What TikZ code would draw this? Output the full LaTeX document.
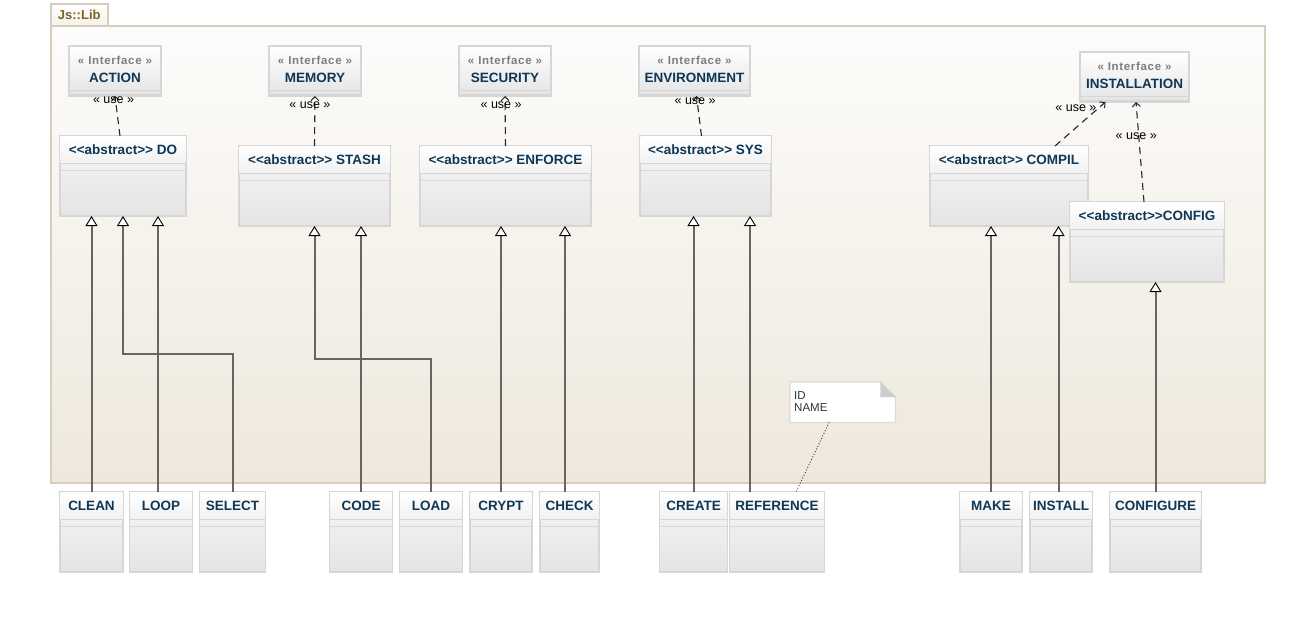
\documentclass[tikz,border=0pt]{standalone}
\usepackage{fontspec}
\setmainfont{Liberation Sans}
\newfontfamily\stereofont{Liberation Sans}[LetterSpace=6]
\usepackage{xcolor}
\usepackage{tikz}
\usetikzlibrary{arrows.meta}

\definecolor{boxline}{RGB}{214,214,214}
\definecolor{bodytop}{RGB}{247,247,247}
\definecolor{bodybot}{RGB}{228,228,228}
\definecolor{titlebot}{RGB}{241,241,241}
\definecolor{titleblue}{RGB}{15,55,85}
\definecolor{stereogray}{RGB}{125,125,125}
\definecolor{pkgline}{RGB}{214,206,188}
\definecolor{pkgtop}{RGB}{253,252,251}
\definecolor{pkgbot}{RGB}{238,232,220}
\definecolor{pkgtext}{RGB}{128,96,40}
\definecolor{genline}{RGB}{105,100,95}
\definecolor{notefold}{RGB}{205,205,205}

\tikzset {
	classbox/.style={rectangle, draw=boxline, line width=1.1pt, top color=bodytop, bottom color=bodybot,
					anchor=north west, inner sep=0pt, outer sep=0pt},
	ifacebox/.style={rectangle, draw=boxline, line width=1.1pt, top color=white, bottom color=bodybot,
					anchor=north west, inner sep=0pt, outer sep=0pt},
	titlepart/.style={top color=white, bottom color=titlebot},
	sepline/.style={draw=boxline, line width=1pt},
	classtitle/.style={anchor=base, inner sep=0pt, text=titleblue, font=\fontsize{13.5}{16}\selectfont\bfseries},
	stereo/.style={anchor=base, inner sep=0pt, text=stereogray, font=\fontsize{11.5}{14}\selectfont\stereofont\bfseries},
	uselabel/.style={inner sep=0pt, text=black, font=\fontsize{12.5}{15}\selectfont},
	inherit/.style={draw=genline, line width=2pt,
					-{Triangle[length=10pt, width=12pt, color=black, fill=white, line width=0.9pt]}},
	depend/.style={draw=black!85, line width=1.1pt, dash pattern=on 7pt off 5pt,
					-{Straight Barb[length=4pt, width=8pt, line width=1pt]}},
	pkgbody/.style={rectangle, draw=pkgline, line width=1.5pt, top color=pkgtop, bottom color=pkgbot,
					anchor=north west, inner sep=0pt},
	pkgtab/.style={rectangle, draw=pkgline, line width=1.5pt, top color=white, bottom color=pkgbot!60,
					anchor=north west, inner sep=0pt, text=pkgtext, font=\fontsize{13}{15}\selectfont\bfseries},
	notebox/.style={draw=black!14, line width=1.2pt, fill=white},
	notetext/.style={anchor=north west, inner sep=0pt, align=left, text=black!80,
					font=\fontsize{11.5}{11.3}\selectfont},
	noteline/.style={draw=black!80, line width=0.9pt, dotted}
}

% name, x, y, width, height, title
\newcommand{\umlclass}[6]{%
	\node[classbox, minimum width=#4pt, minimum height=#5pt] (#1) at (#2,#3) {};
	\shade[titlepart] ([shift={(0.6pt,-0.6pt)}]#1.north west) rectangle ([shift={(-0.6pt,-27pt)}]#1.north east);
	\draw[sepline] ([yshift=-27pt]#1.north west) -- ([yshift=-27pt]#1.north east)
		([yshift=-34pt]#1.north west) -- ([yshift=-34pt]#1.north east);
	\node[classtitle] (#1-title) at ([yshift=-18pt]#1.north) {#6};
}
% name, x, y, width, title
\newcommand{\umliface}[5]{%
	\node[ifacebox, minimum width=#4pt, minimum height=50pt] (#1) at (#2,#3) {};
	\draw[sepline] ([yshift=6pt]#1.south west) -- ([yshift=6pt]#1.south east)
		([yshift=2pt]#1.south west) -- ([yshift=2pt]#1.south east);
	\node[stereo] (#1-stereo) at ([yshift=-18pt]#1.north) {« Interface »};
	\node[classtitle] (#1-title) at ([yshift=-36.5pt]#1.north) {#5};
}

\begin{document}
\begin{tikzpicture}[x=1pt, y=-1pt]
	\useasboundingbox (0,0) rectangle (1314,622);

	% package
	\node[pkgbody, minimum width=1214pt, minimum height=457pt] (lib) at (50,25) {};
	\node[pkgtab, minimum width=57pt, minimum height=22pt] (libtab) at (50,3) {Js::Lib};

	% interfaces
	\umliface{action}{69}{46}{92}{ACTION}
	\umliface{memory}{269}{46}{92}{MEMORY}
	\umliface{security}{459}{46}{92}{SECURITY}
	\umliface{environment}{639}{46}{111}{ENVIRONMENT}
	\umliface{installation}{1080}{52}{109}{INSTALLATION}

	% abstract classes
	\umlclass{do}{60}{136}{126}{80}{<{}<abstract>{}> DO}
	\umlclass{stash}{239}{146}{151}{80}{<{}<abstract>{}> STASH}
	\umlclass{enforce}{420}{146}{171}{80}{<{}<abstract>{}> ENFORCE}
	\umlclass{sys}{640}{136}{131}{80}{<{}<abstract>{}> SYS}
	\umlclass{compil}{930}{146}{158}{80}{<{}<abstract>{}> COMPIL}
	\umlclass{config}{1070}{202}{154}{80}{<{}<abstract>{}>CONFIG}

	% concrete classes
	\foreach \cname/\cx/\cw/\ctitle in {clean/60/63/CLEAN, loop/129.5/63/LOOP, select/199.5/66/SELECT,
			code/329.5/63/CODE, load/399.5/63/LOAD, crypt/470/62/CRYPT, check/540/59/CHECK,
			create/659.5/68/CREATE, reference/729.5/95/REFERENCE,
			make/960/62/MAKE, install/1030/62/INSTALL, configure/1110/91/CONFIGURE}
		{\umlclass{\cname}{\cx}{492}{\cw}{80}{\ctitle}}

	% note
	\node[minimum width=105pt, minimum height=40pt, anchor=north west, inner sep=0pt] (note) at (790,382) {};
	\draw[notebox] (note.north west) -- ([xshift=-15pt]note.north east) -- ([yshift=-15pt]note.north east)
		-- (note.south east) -- (note.south west) -- cycle;
	\fill[notefold] ([xshift=-15pt]note.north east) -- ([shift={(-15pt,-15pt)}]note.north east)
		-- ([yshift=-15pt]note.north east) -- cycle;
	\node[notetext] (note-text) at ([shift={(4pt,-9.7pt)}]note.north west) {ID\\NAME};
	\draw[noteline] ([xshift=-13.5pt]note.south) -- ([xshift=19pt]reference.north);

	% generalizations
	\foreach \child/\off/\parent in {clean/0/do, loop/-3/do, code/0/stash, crypt/0/enforce, check/-4.5/enforce,
			create/0/sys, reference/-27/sys, make/0/compil, install/-2.5/compil, configure/0/config}
		\draw[inherit] ([xshift=\off pt]\child.north) -- ([xshift=\off pt]\child.north |- \parent.south);
	\coordinate (selbend) at (123,354);
	\coordinate (loadbend) at (314.5,359);
	\draw[inherit] (select.north) |- (selbend) -- (do.south);
	\draw[inherit] (load.north) |- (loadbend) -- (stash.south);

	% dependencies
	\draw[depend] ([xshift=-3pt]do.north) -- node[uselabel, pos=0.89, xshift=-2pt] (use-action) {« use »} (action.south);
	\draw[depend] (stash.north) -- node[uselabel, pos=0.81, xshift=-5pt] (use-memory) {« use »} (memory.south);
	\draw[depend] (enforce.north) -- node[uselabel, pos=0.82, xshift=-4pt] (use-security) {« use »} (security.south);
	\draw[depend] ([xshift=-4pt]sys.north) -- node[uselabel, pos=0.88, xshift=-2pt] (use-environment) {« use »} ([xshift=2pt]environment.south);
	\draw[depend] ([xshift=46pt]compil.north) -- node[uselabel, pos=0.87, xshift=-23pt] (use-compil) {« use »} ([xshift=-29pt]installation.south);
	\draw[depend] ([xshift=-3pt]config.north) -- node[uselabel, pos=0.66, xshift=-2.5pt] (use-config) {« use »} ([xshift=1.5pt]installation.south);
\end{tikzpicture}
\end{document}
